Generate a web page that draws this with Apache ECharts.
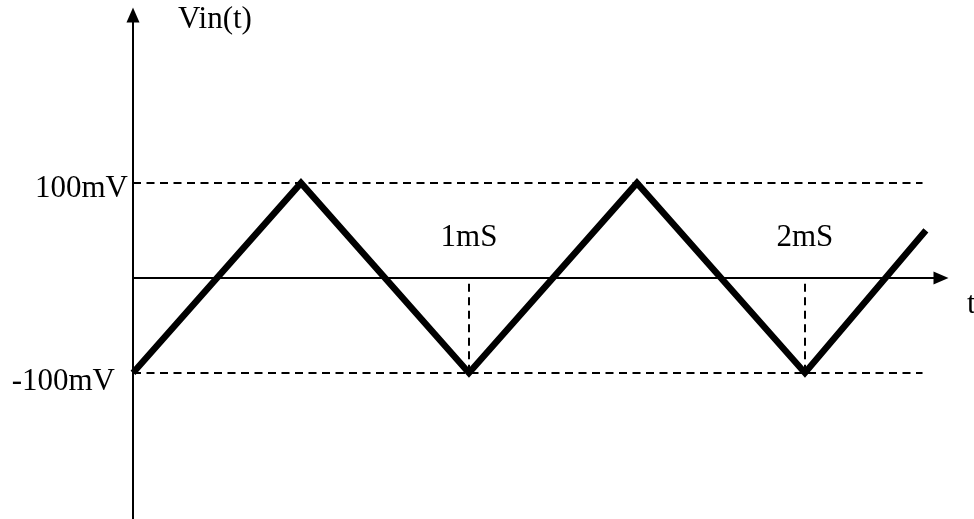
<!DOCTYPE html>
<html>
<head>
<meta charset="utf-8">
<script src="https://cdn.jsdelivr.net/npm/echarts@6/dist/echarts.min.js"></script>
<style>
html, body { margin: 0; padding: 0; background: #fff; }
#chart1 { width: 974px; height: 519px; }
</style>
</head>
<body>
<div id="chart1"></div>
<script>
// triangle wave, time in ms, voltage in mV
var times = [0, 0.5, 1, 1.5, 2, 2.36];
var volts = [-100, 100, -100, 100, -100, 50];
var levels = [100, -100];
var levelLabels = ['100mV', '-100mV'];
var levelEnd = 2.35;
var markTimes = [1, 2];
var markLabels = ['1mS', '2mS'];

var font = 'Liberation Serif';
var myChart = echarts.init(document.getElementById('chart1'));

var wave = [];
for (var i = 0; i < times.length; i++) {
    wave.push([times[i], volts[i]]);
}

var lineData = [];
for (var i = 0; i < levels.length; i++) {
    lineData.push([
        {
            coord: [0, levels[i]],
            label: {
                show: true,
                position: 'start',
                formatter: levelLabels[i],
                distance: i == 0 ? 5 : 18,
                verticalAlign: 'top',
                lineHeight: i == 0 ? 12 : 18
            }
        },
        { coord: [levelEnd, levels[i]] }
    ]);
}
for (var i = 0; i < markTimes.length; i++) {
    lineData.push([
        { coord: [markTimes[i], -100] },
        {
            coord: [markTimes[i], 0],
            label: {
                show: true,
                position: 'end',
                formatter: markLabels[i],
                distance: 25
            }
        }
    ]);
}

option = {
    animation: false,
    backgroundColor: '#fff',
    title: {
        text: 'Vin(t)',
        left: 178,
        top: 4,
        padding: 0,
        textStyle: {
            fontFamily: font,
            fontWeight: 'normal',
            fontSize: 31,
            color: '#000'
        }
    },
    grid: {
        left: 133,
        right: 33,
        top: 15,
        bottom: 0,
        outerBoundsMode: 'none',
        containLabel: false
    },
    xAxis: {
        type: 'value',
        min: 0,
        max: 2.405,
        name: 't',
        nameLocation: 'end',
        nameGap: 26,
        nameTextStyle: {
            fontFamily: font,
            fontSize: 31,
            color: '#000',
            verticalAlign: 'top',
            lineHeight: 54
        },
        axisLine: {
            onZero: true,
            symbol: ['none', 'triangle'],
            symbolSize: [13, 15],
            lineStyle: { color: '#000', width: 2 }
        },
        axisTick: { show: false },
        axisLabel: { show: false },
        splitLine: { show: false }
    },
    yAxis: {
        type: 'value',
        min: -254,
        max: 277,
        axisLine: {
            show: true,
            symbol: ['none', 'triangle'],
            symbolSize: [13, 15],
            lineStyle: { color: '#000', width: 2 }
        },
        axisTick: { show: false },
        axisLabel: { show: false },
        splitLine: { show: false }
    },
    series: [
        {
            type: 'line',
            data: wave,
            symbol: 'none',
            lineStyle: {
                color: '#000',
                width: 6.5,
                join: 'miter'
            },
            markLine: {
                silent: true,
                symbol: 'none',
                lineStyle: {
                    color: '#000',
                    width: 2,
                    type: [8, 5.5]
                },
                label: {
                    fontFamily: font,
                    fontSize: 31,
                    color: '#000'
                },
                emphasis: { disabled: true },
                data: lineData
            }
        }
    ]
};
myChart.setOption(option);
</script>
</body>
</html>
